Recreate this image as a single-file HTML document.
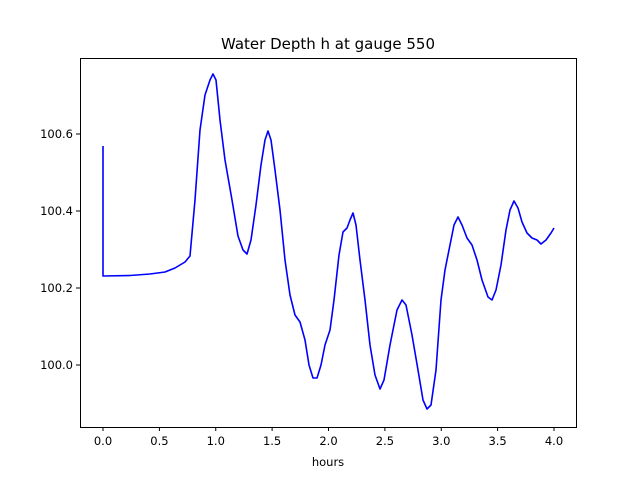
<!DOCTYPE html>
<html><head><style>body{margin:0;background:#fff}</style></head><body>
<svg width="640" height="480" xmlns="http://www.w3.org/2000/svg" font-family="DejaVu Sans, sans-serif">
<rect width="640" height="480" fill="#fff"/>
<text x="328" y="49" font-size="15" text-anchor="middle">Water Depth h at gauge 550</text>
<polyline fill="none" stroke="#0000ff" stroke-width="1.6" stroke-linejoin="round" points="103,146 103,276 130,275.5 150,274 165,272 175,268 185,262 190,256 195,200 200,130 205,95 210,80 213,74 216,80 220,120 225,160 232,200 238,236 243,250 247,254 251,240 256,205 261,165 265,140 268,131 271,140 275,170 280,210 285,260 290,295 295,315 300,322 305,340 309,365 313,378 317,378 321,365 325,345 330,330 334,300 339,255 343,232 347,228 350,220 353,213 356,225 360,260 365,300 370,345 375,375 380,389 384,380 390,345 397,310 402,300 406,305 412,335 418,370 423,400 427,409 431,405 436,370 441,300 445,270 450,245 454,225 458,217 462,225 467,238 472,245 477,260 482,280 488,297 492,300 496,290 501,265 506,230 510,210 514,201 518,208 522,222 527,233 532,238 537,240 541,244 546,240 551,233 554,228"/>
<rect x="80.5" y="58.5" width="496" height="369" fill="none" stroke="#000" stroke-width="1"/>
<g stroke="#000">
<line x1="103" y1="427" x2="103" y2="431"/><line x1="159.4" y1="427" x2="159.4" y2="431"/><line x1="215.75" y1="427" x2="215.75" y2="431"/><line x1="272.1" y1="427" x2="272.1" y2="431"/><line x1="328.5" y1="427" x2="328.5" y2="431"/><line x1="384.9" y1="427" x2="384.9" y2="431"/><line x1="441.25" y1="427" x2="441.25" y2="431"/><line x1="497.6" y1="427" x2="497.6" y2="431"/><line x1="554" y1="427" x2="554" y2="431"/>
<line x1="76" y1="365" x2="80" y2="365"/><line x1="76" y1="288" x2="80" y2="288"/><line x1="76" y1="211" x2="80" y2="211"/><line x1="76" y1="134" x2="80" y2="134"/>
</g>
<g font-size="11.5" text-anchor="middle">
<text x="103" y="445">0.0</text><text x="159.4" y="445">0.5</text><text x="215.75" y="445">1.0</text><text x="272.1" y="445">1.5</text><text x="328.5" y="445">2.0</text><text x="384.9" y="445">2.5</text><text x="441.25" y="445">3.0</text><text x="497.6" y="445">3.5</text><text x="554" y="445">4.0</text>
<text x="328" y="466">hours</text>
</g>
<g font-size="11.5" text-anchor="end">
<text x="73" y="369">100.0</text><text x="73" y="292">100.2</text><text x="73" y="215">100.4</text><text x="73" y="138">100.6</text>
</g>
</svg>
</body></html>
